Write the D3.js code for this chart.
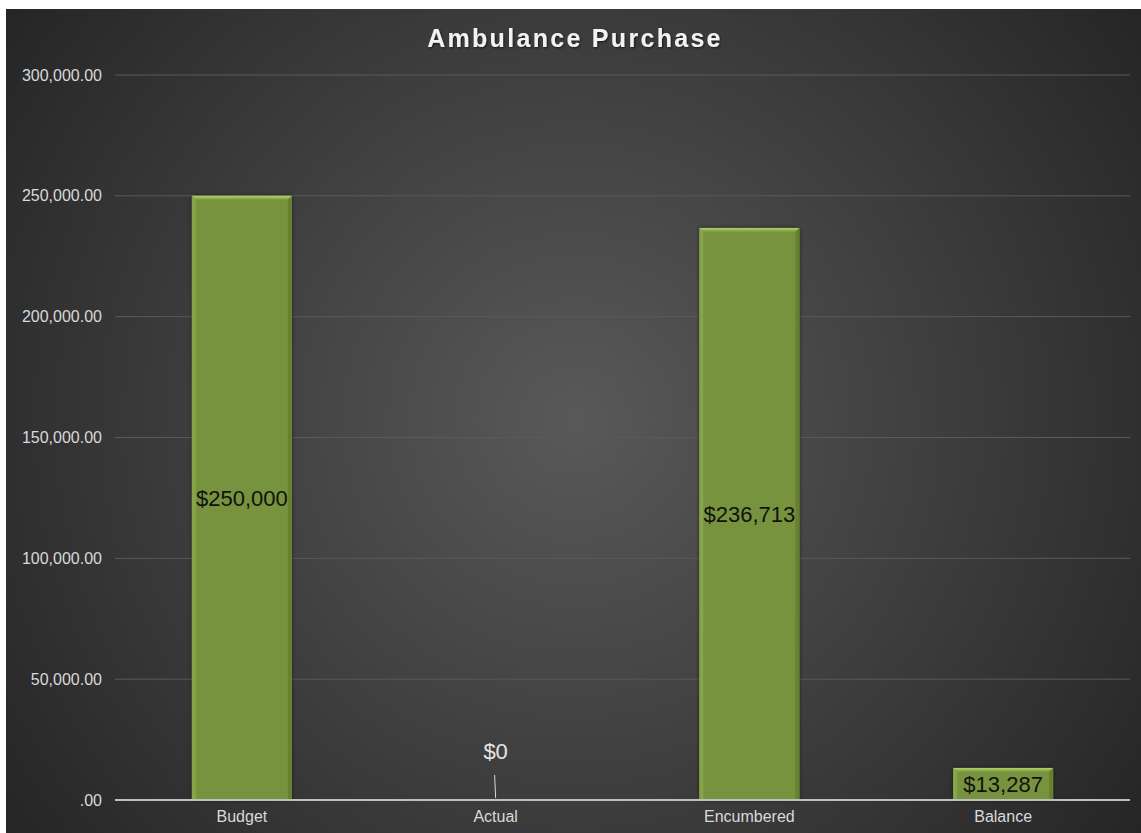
<!DOCTYPE html>
<html><head><meta charset="utf-8">
<script src="https://cdn.jsdelivr.net/npm/d3@7"></script>
<style>html,body{margin:0;padding:0;background:#fff;overflow:hidden}</style>
</head><body><svg id="c" width="1141" height="833"></svg>
<script>
const categories = ["Budget", "Actual", "Encumbered", "Balance"];
const values = [250000, 0, 236713, 13287];
const labels = ["$250,000", "$0", "$236,713", "$13,287"];
const yTicks = [0, 50000, 100000, 150000, 200000, 250000, 300000];
const titleText = "Ambulance Purchase";

const W = 1141, H = 833;
const FONT = "'Liberation Sans', Arial, Helvetica, sans-serif";
const svg = d3.select("#c");
const defs = svg.append("defs");
const rg = defs.append("radialGradient").attr("id","bg").attr("gradientUnits","userSpaceOnUse")
  .attr("cx",575).attr("cy",420).attr("r",720);
rg.append("stop").attr("offset","0%").attr("stop-color","#595959");
rg.append("stop").attr("offset","100%").attr("stop-color","#242424");
const bev = defs.append("linearGradient").attr("id","bev").attr("x1",0).attr("y1",0).attr("x2",0).attr("y2",1);
bev.append("stop").attr("offset","0%").attr("stop-color","#b5d36b");
bev.append("stop").attr("offset","100%").attr("stop-color","#7a9a3a");
const sh = defs.append("filter").attr("id","sh").attr("x","-20%").attr("y","-20%").attr("width","140%").attr("height","140%");
sh.append("feDropShadow").attr("dx",0).attr("dy",0).attr("stdDeviation",2).attr("flood-color","#000").attr("flood-opacity",0.5);
const tsh = defs.append("filter").attr("id","tsh");
tsh.append("feDropShadow").attr("dx",1).attr("dy",1).attr("stdDeviation",1).attr("flood-color","#000").attr("flood-opacity",0.6);

svg.append("rect").attr("x",6).attr("y",9).attr("width",W-6).attr("height",H-9).attr("fill","url(#bg)");

const m = {left:115, right:1130, top:75, bottom:800};
const x = d3.scaleBand().domain(categories).range([m.left, m.right]).paddingInner(0.606).paddingOuter(0.303);
const y = d3.scaleLinear().domain([0,300000]).range([m.bottom, m.top]);

// gridlines
svg.append("g").selectAll("line").data(yTicks.filter(d=>d>0)).join("line")
  .attr("x1",m.left).attr("x2",m.right).attr("y1",d=>y(d)).attr("y2",d=>y(d))
  .attr("stroke","#5a5a5a").attr("stroke-width",1);

// y axis labels
const fmt = d => d===0 ? ".00" : d3.format(",.2f")(d);
const yAxis = d3.axisLeft(y).tickValues(yTicks).tickFormat(fmt).tickSize(0).tickPadding(0);
const ya = svg.append("g").attr("transform",`translate(${m.left-13},0)`).call(yAxis);
ya.select(".domain").remove();
ya.selectAll("text").attr("fill","#d9d9d9").attr("font-family",FONT).attr("font-size",16);

// bars
const bars = svg.append("g");
categories.forEach((c,i)=>{
  const v = values[i]; if (v<=0) return;
  const bx = x(c), bw = x.bandwidth(), by = y(v), bh = y(0)-y(v);
  bars.append("rect").attr("x",bx).attr("y",by).attr("width",bw).attr("height",bh)
    .attr("fill","#77933c").attr("filter","url(#sh)");
  bars.append("path").attr("d",`M${bx},${by}L${bx+bw},${by}L${bx+bw-4},${by+4}L${bx+4},${by+4}Z`).attr("fill","url(#bev)");
  bars.append("path").attr("d",`M${bx},${by}L${bx+4},${by+4}L${bx+4},${by+bh}L${bx},${by+bh}Z`).attr("fill","#86a548");
  bars.append("path").attr("d",`M${bx+bw},${by}L${bx+bw-4},${by+4}L${bx+bw-4},${by+bh}L${bx+bw},${by+bh}Z`).attr("fill","#67812f");
});

// x axis
const xAxis = d3.axisBottom(x).tickSize(0).tickPadding(11);
const xa = svg.append("g").attr("transform",`translate(0,${m.bottom})`).call(xAxis);
xa.select(".domain").attr("stroke","#bfbfbf").attr("stroke-width",2).attr("d",`M${m.left},0H${m.right}`);
xa.selectAll("text").attr("fill","#d9d9d9").attr("font-family",FONT).attr("font-size",16);

// data labels
categories.forEach((c,i)=>{
  const v = values[i];
  const cx = x(c)+x.bandwidth()/2;
  if (v>0) {
    svg.append("text").attr("x",cx).attr("y",(y(v)+y(0))/2).attr("dy","0.35em")
      .attr("text-anchor","middle").attr("fill","#111").attr("font-family",FONT)
      .attr("font-size",22).text(labels[i]);
  } else {
    svg.append("line").attr("x1",cx-1).attr("y1",y(0)-25).attr("x2",cx).attr("y2",y(0)-2)
      .attr("stroke","#d9d9d9").attr("stroke-width",1);
    svg.append("text").attr("x",cx).attr("y",y(0)-49).attr("dy","0.35em")
      .attr("text-anchor","middle").attr("fill","#e6e6e6").attr("font-family",FONT)
      .attr("font-size",22).text(labels[i]);
  }
});

// title
svg.append("text").attr("x",575).attr("y",38).attr("dy","0.35em").attr("text-anchor","middle")
  .attr("fill","#f2f2f2").attr("font-family",FONT).attr("font-weight","bold")
  .attr("font-size",25).attr("letter-spacing","2.3").attr("filter","url(#tsh)").text(titleText);
</script></body></html>
